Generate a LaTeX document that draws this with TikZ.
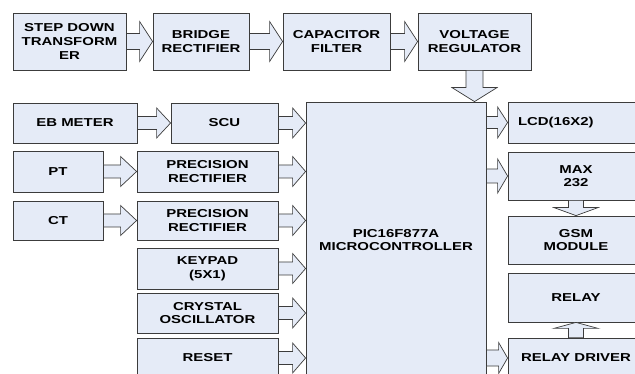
\documentclass[tikz,border=0pt]{standalone}
\usepackage{fontspec}
\newfontfamily\blkfont[FakeStretch=1.3]{Liberation Sans}
\usepackage{tikz}
\usetikzlibrary{calc}
\usepackage{xcolor}
\definecolor{blkfill}{HTML}{E5EBF7}
\definecolor{blkline}{HTML}{3C3C3C}

\begin{document}
\begin{tikzpicture}[
    x=1pt, y=-1pt,
    blk/.style={draw=blkline, fill=blkfill, line width=0.8pt, inner sep=0pt,
                align=center, font=\blkfont\bfseries\fontsize{11.5}{13.7}\selectfont},
    barr/.style={draw=blkline, fill=blkfill, line width=0.7pt, line join=miter},
    %% block arrows: shaft half width, head half width, head length
    rarr/.style n args={3}{barr, to path={($(\tikztostart)+(0,#1)$)
        -- ($(\tikztotarget)+(-#3,#1)$) -- ($(\tikztotarget)+(-#3,#2)$)
        -- (\tikztotarget) -- ($(\tikztotarget)+(-#3,-#2)$)
        -- ($(\tikztotarget)+(-#3,-#1)$) -- ($(\tikztostart)+(0,-#1)$) -- cycle}},
    darr/.style n args={3}{barr, to path={($(\tikztostart)+(#1,0)$)
        -- ($(\tikztotarget)+(#1,-#3)$) -- ($(\tikztotarget)+(#2,-#3)$)
        -- (\tikztotarget) -- ($(\tikztotarget)+(-#2,-#3)$)
        -- ($(\tikztotarget)+(-#1,-#3)$) -- ($(\tikztostart)+(-#1,0)$) -- cycle}},
    uarr/.style n args={3}{barr, to path={($(\tikztostart)+(#1,0)$)
        -- ($(\tikztotarget)+(#1,#3)$) -- ($(\tikztotarget)+(#2,#3)$)
        -- (\tikztotarget) -- ($(\tikztotarget)+(-#2,#3)$)
        -- ($(\tikztotarget)+(-#1,#3)$) -- ($(\tikztostart)+(-#1,0)$) -- cycle}}
  ]
  \clip (0,0) rectangle (635,374);
  \fill[white] (0,0) rectangle (635,374);
  %% Power supply
  \node[blk, minimum width=113pt, minimum height=57pt] (stepdn) at (69.5,41.5) {STEP DOWN\\TRANSFORM\\ER};
  \node[blk, minimum width=96pt,  minimum height=57pt] (bridge) at (201,41.5) {BRIDGE\\RECTIFIER};
  \node[blk, minimum width=107pt, minimum height=57pt] (capf)   at (336.5,41.5) {CAPACITOR\\FILTER};
  \node[blk, minimum width=113pt, minimum height=57pt] (vreg)   at (474.5,41.5) {VOLTAGE\\REGULATOR};
  %% Inputs
  \node[blk, minimum width=124pt, minimum height=40pt] (ebm)    at (75,123) {EB METER};
  \node[blk, minimum width=107pt, minimum height=40pt] (scu)    at (224.5,123) {SCU};
  \node[blk, minimum width=90pt,  minimum height=41pt] (pt)     at (58,171.5) {PT};
  \node[blk, minimum width=141pt, minimum height=41pt] (prec1)  at (207.5,171.5) {PRECISION\\RECTIFIER};
  \node[blk, minimum width=90pt,  minimum height=39pt] (ct)     at (58,220.5) {CT};
  \node[blk, minimum width=141pt, minimum height=39pt] (prec2)  at (207.5,220.5) {PRECISION\\RECTIFIER};
  \node[blk, minimum width=141pt, minimum height=41pt] (keypad) at (207.5,268.5) {KEYPAD\\(5X1)};
  \node[blk, minimum width=141pt, minimum height=40pt] (xtal)   at (207.5,313) {CRYSTAL\\OSCILLATOR};
  \node[blk, minimum width=141pt, minimum height=40pt] (reset)  at (207.5,358) {RESET};
  %% Controller
  \node[blk, minimum width=180pt, minimum height=276pt] (mcu)   at (396,240) {PIC16F877A\\MICROCONTROLLER};
  %% Outputs
  \node[blk, text width=116pt, inner xsep=10pt, align=left, minimum height=41pt] (lcd) at (576,122.5) {LCD(16X2)};
  \node[blk, minimum width=136pt, minimum height=48pt] (max)    at (576,176) {MAX\\232};
  \node[blk, minimum width=136pt, minimum height=48pt] (gsm)    at (576,240) {GSM\\MODULE};
  \node[blk, minimum width=136pt, minimum height=49pt] (relay)  at (576,297.5) {RELAY};
  \node[blk, minimum width=136pt, minimum height=40pt] (rdrv)   at (576,358) {RELAY DRIVER};
  %% Block arrows
  \draw[rarr={8}{20}{13}] (stepdn.east) to (bridge.west);
  \draw[rarr={8}{20}{13}] (bridge.east) to (capf.west);
  \draw[rarr={8}{20}{13}] (capf.east) to (vreg.west);
  \draw[darr={8.5}{22.5}{14}] (vreg.south) to (vreg.south |- mcu.north);
  \draw[rarr={6.5}{15}{14}] (ebm.east) to (scu.west);
  \draw[rarr={6.5}{15}{16}] (pt.east) to (prec1.west);
  \draw[rarr={6.5}{15}{16}] (ct.east) to (prec2.west);
  \draw[rarr={6.5}{15}{13}] (scu.east) to (scu.east -| mcu.west);
  \draw[rarr={6.5}{15}{13}] (prec1.east) to (prec1.east -| mcu.west);
  \draw[rarr={6.5}{15}{13}] (prec2.east) to (prec2.east -| mcu.west);
  \draw[rarr={6.5}{15}{13}] (keypad.east) to (keypad.east -| mcu.west);
  \draw[rarr={6.5}{15}{13}] (xtal.east) to (xtal.east -| mcu.west);
  \draw[rarr={6.5}{15}{13}] (reset.east) to (reset.east -| mcu.west);
  \draw[rarr={6}{15.5}{10}] (mcu.east |- lcd.west) to (lcd.west);
  \draw[rarr={7}{17}{10}] (mcu.east |- max.west) to (max.west);
  \draw[rarr={8}{15.5}{9}] (mcu.east |- rdrv.west) to (rdrv.west);
  \draw[darr={7.5}{22}{8}] (max.south) to (gsm.north);
  \draw[uarr={7.5}{22}{6}] (rdrv.north) to (relay.south);
\end{tikzpicture}
\end{document}
